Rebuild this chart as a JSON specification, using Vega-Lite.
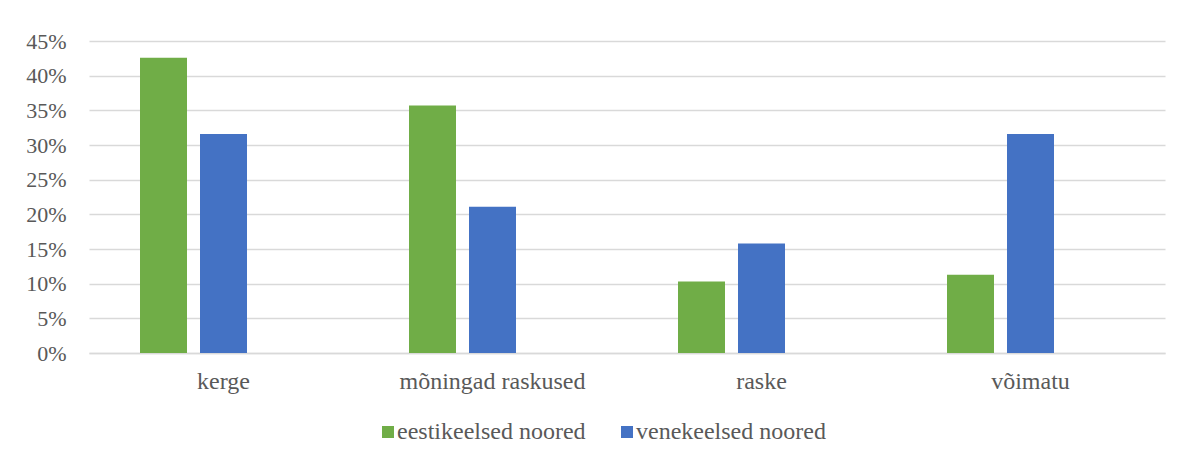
{
  "$schema": "https://vega.github.io/schema/vega-lite/v6.json",
  "width": 1076,
  "height": 312,
  "autosize": {"type": "none"},
  "padding": {"left": 89, "top": 41, "right": 16, "bottom": 110},
  "background": "white",
  "config": {
    "view": {"stroke": null}
  },
  "data": {
    "values": [
      {"kategooria": "kerge", "rühm": "eestikeelsed noored", "osakaal": 0.426},
      {"kategooria": "kerge", "rühm": "venekeelsed noored", "osakaal": 0.316},
      {"kategooria": "mõningad raskused", "rühm": "eestikeelsed noored", "osakaal": 0.357},
      {"kategooria": "mõningad raskused", "rühm": "venekeelsed noored", "osakaal": 0.211},
      {"kategooria": "raske", "rühm": "eestikeelsed noored", "osakaal": 0.103},
      {"kategooria": "raske", "rühm": "venekeelsed noored", "osakaal": 0.158},
      {"kategooria": "võimatu", "rühm": "eestikeelsed noored", "osakaal": 0.113},
      {"kategooria": "võimatu", "rühm": "venekeelsed noored", "osakaal": 0.316}
    ]
  },
  "mark": {"type": "bar"},
  "encoding": {
    "x": {
      "field": "kategooria",
      "type": "nominal",
      "sort": ["kerge", "mõningad raskused", "raske", "võimatu"],
      "scale": {"paddingInner": 0, "paddingOuter": 0},
      "axis": {
        "title": null,
        "labelAngle": 0,
        "labelFont": "Liberation Serif",
        "labelFontSize": 24,
        "labelColor": "#595959",
        "labelLimit": 400,
        "ticks": false,
        "domain": true,
        "domainColor": "#d9d9d9",
        "domainWidth": 1.5,
        "labelPadding": 16
      }
    },
    "xOffset": {
      "field": "rühm",
      "type": "nominal",
      "scale": {
        "domain": ["eestikeelsed noored", "venekeelsed noored", "_tühi"],
        "paddingInner": 0.2167,
        "paddingOuter": 0.85
      }
    },
    "y": {
      "field": "osakaal",
      "type": "quantitative",
      "scale": {"domain": [0, 0.45], "nice": false},
      "axis": {
        "title": null,
        "format": ".0%",
        "values": [0, 0.05, 0.1, 0.15, 0.2, 0.25, 0.3, 0.35, 0.4, 0.45],
        "labelFont": "Liberation Serif",
        "labelFontSize": 22,
        "labelColor": "#595959",
        "domain": false,
        "ticks": false,
        "grid": true,
        "gridColor": "#d9d9d9",
        "gridWidth": 1.5,
        "labelPadding": 23
      }
    },
    "color": {
      "field": "rühm",
      "type": "nominal",
      "scale": {
        "domain": ["eestikeelsed noored", "venekeelsed noored"],
        "range": ["#70AD47", "#4472C4"]
      },
      "legend": {
        "title": null,
        "orient": "none",
        "direction": "horizontal",
        "legendX": 287,
        "legendY": 379,
        "labelFont": "Liberation Serif",
        "labelFontSize": 24,
        "labelColor": "#595959",
        "labelLimit": 400,
        "symbolType": "square",
        "symbolSize": 144,
        "symbolStrokeWidth": 0,
        "symbolOpacity": 1,
        "labelOffset": -3,
        "columnPadding": 29
      }
    }
  }
}
